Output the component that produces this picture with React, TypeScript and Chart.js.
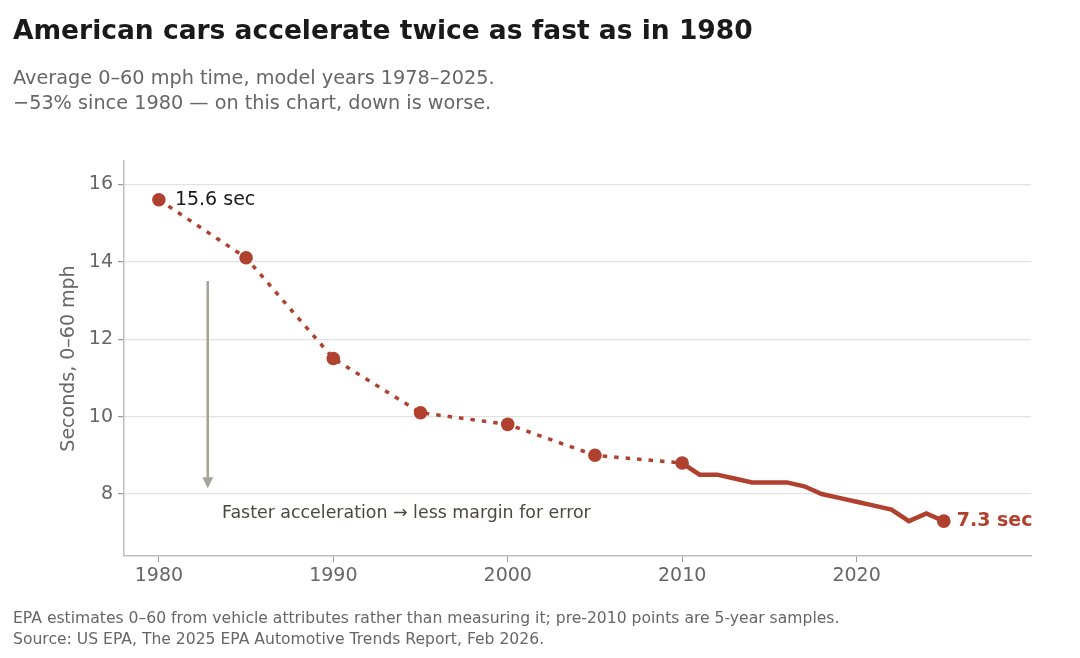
import React, { useEffect, useRef } from "react";
import { Chart, registerables, Plugin } from "chart.js";

Chart.register(...registerables);

// 5-year samples before 2010 (dotted), annual values after (solid)
const sampleYears = [1980, 1985, 1990, 1995, 2000, 2005, 2010];
const sampleSeconds = [15.6, 14.1, 11.5, 10.1, 9.8, 9.0, 8.8];
const annualYears = [2010, 2011, 2012, 2013, 2014, 2015, 2016, 2017, 2018, 2019, 2020, 2021, 2022, 2023, 2024, 2025];
const annualSeconds = [8.8, 8.5, 8.5, 8.4, 8.3, 8.3, 8.3, 8.2, 8.0, 7.9, 7.8, 7.7, 7.6, 7.3, 7.5, 7.3];
const xTicks = [1980, 1990, 2000, 2010, 2020];
const yTicks = [8, 10, 12, 14, 16];

const RED = "#b0412e";
const FONT = "'DejaVu Sans', sans-serif";

const notes: Plugin<"line"> = {
  id: "notes",
  afterDatasetsDraw(chart) {
    const { ctx } = chart;
    const x = chart.scales.x;
    const y = chart.scales.y;
    ctx.save();

    // arrow
    const ax = x.getPixelForValue(1982.8);
    const ay1 = y.getPixelForValue(13.5);
    const ay2 = y.getPixelForValue(8.15);
    ctx.strokeStyle = "#a7a39b";
    ctx.fillStyle = "#a7a39b";
    ctx.lineWidth = 2.5;
    ctx.beginPath();
    ctx.moveTo(ax, ay1);
    ctx.lineTo(ax, ay2 - 9);
    ctx.stroke();
    ctx.beginPath();
    ctx.moveTo(ax - 5.5, ay2 - 11);
    ctx.lineTo(ax + 5.5, ay2 - 11);
    ctx.lineTo(ax, ay2);
    ctx.closePath();
    ctx.fill();

    ctx.textBaseline = "middle";
    ctx.textAlign = "left";
    ctx.fillStyle = "#4b4840";
    ctx.font = `17.4px ${FONT}`;
    ctx.fillText("Faster acceleration \u2192 less margin for error", x.getPixelForValue(1983.62), y.getPixelForValue(7.5));

    // end labels
    ctx.fillStyle = "#1a1a1a";
    ctx.font = `19px ${FONT}`;
    ctx.fillText(`${sampleSeconds[0]} sec`, x.getPixelForValue(sampleYears[0]) + 16, y.getPixelForValue(sampleSeconds[0]));
    const last = annualSeconds.length - 1;
    ctx.fillStyle = RED;
    ctx.font = `bold 19px ${FONT}`;
    ctx.fillText(`${annualSeconds[last]} sec`, x.getPixelForValue(annualYears[last]) + 13, y.getPixelForValue(annualSeconds[last]));
    ctx.restore();
  },
};

const AccelChart: React.FC = () => {
  const chartRef = useRef<HTMLCanvasElement | null>(null);

  useEffect(() => {
    if (!chartRef.current) return;
    const ctx = chartRef.current.getContext("2d");
    if (!ctx) return;

    const lastIdx = annualYears.length - 1;
    const chart = new Chart(ctx, {
      type: "line",
      data: {
        datasets: [
          {
            data: sampleYears.map((yr, i) => ({ x: yr, y: sampleSeconds[i] })),
            borderColor: RED,
            backgroundColor: RED,
            borderWidth: 3.5,
            borderDash: [4.5, 7],
            pointRadius: 6.8,
            pointBorderWidth: 0,
            tension: 0,
          },
          {
            data: annualYears.map((yr, i) => ({ x: yr, y: annualSeconds[i] })),
            borderColor: RED,
            backgroundColor: RED,
            borderWidth: 4.5,
            pointRadius: annualYears.map((_, i) => (i === lastIdx ? 6.8 : 0)),
            pointBorderWidth: 0,
            tension: 0,
          },
        ],
      },
      options: {
        animation: false,
        responsive: false,
        devicePixelRatio: 1,
        layout: { padding: { left: 58, top: 161, right: 49, bottom: 0 } },
        plugins: { legend: { display: false }, tooltip: { enabled: false } },
        scales: {
          x: {
            type: "linear",
            min: 1978,
            max: 2030,
            afterBuildTicks: (s) => {
              s.ticks = xTicks.map((v) => ({ value: v }));
            },
            afterFit: (s) => {
              s.height = 102;
            },
            grid: { drawOnChartArea: false, tickLength: 6, tickColor: "#999" },
            border: { color: "#bdbdbd", width: 1.5 },
            ticks: { color: "#666", font: { family: FONT, size: 19 }, padding: 3, callback: (v) => String(v) },
          },
          y: {
            min: 6.4,
            max: 16.6,
            afterBuildTicks: (s) => {
              s.ticks = yTicks.map((v) => ({ value: v }));
            },
            afterFit: (s) => {
              s.width = 66;
            },
            grid: { color: "#e2e2e2", lineWidth: 1.2, tickLength: 6, tickColor: "#999" },
            border: { color: "#bdbdbd", width: 1.5 },
            ticks: { color: "#666", font: { family: FONT, size: 19 }, padding: 5 },
            title: {
              display: true,
              text: "Seconds, 0\u201360 mph",
              color: "#666",
              font: { family: FONT, size: 19 },
              padding: 0,
            },
          },
        },
      },
      plugins: [notes],
    });

    return () => {
      chart.destroy();
    };
  }, []);

  return <canvas ref={chartRef} width={1080} height={658} style={{ position: "absolute", left: 0, top: 0 }} />;
};

const text: React.CSSProperties = { position: "absolute", left: 13, margin: 0, fontFamily: FONT, whiteSpace: "nowrap" };

export default function App() {
  return (
    <div style={{ position: "absolute", left: 0, top: 0, width: 1080, height: 658, background: "#fff", overflow: "hidden" }}>
      <AccelChart />
      <div style={{ ...text, top: 14, fontSize: 26.5, lineHeight: "32px", fontWeight: "bold", color: "#1a1a1a" }}>
        American cars accelerate twice as fast as in 1980
      </div>
      <div style={{ ...text, top: 65, fontSize: 19.25, lineHeight: "25px", color: "#666" }}>
        Average 0–60 mph time, model years 1978–2025.
        <br />
        −53% since 1980 — on this chart, down is worse.
      </div>
      <div style={{ ...text, top: 608, fontSize: 15.6, lineHeight: "21px", color: "#666" }}>
        EPA estimates 0–60 from vehicle attributes rather than measuring it; pre-2010 points are 5-year samples.
        <br />
        Source: US EPA, The 2025 EPA Automotive Trends Report, Feb 2026.
      </div>
    </div>
  );
}
